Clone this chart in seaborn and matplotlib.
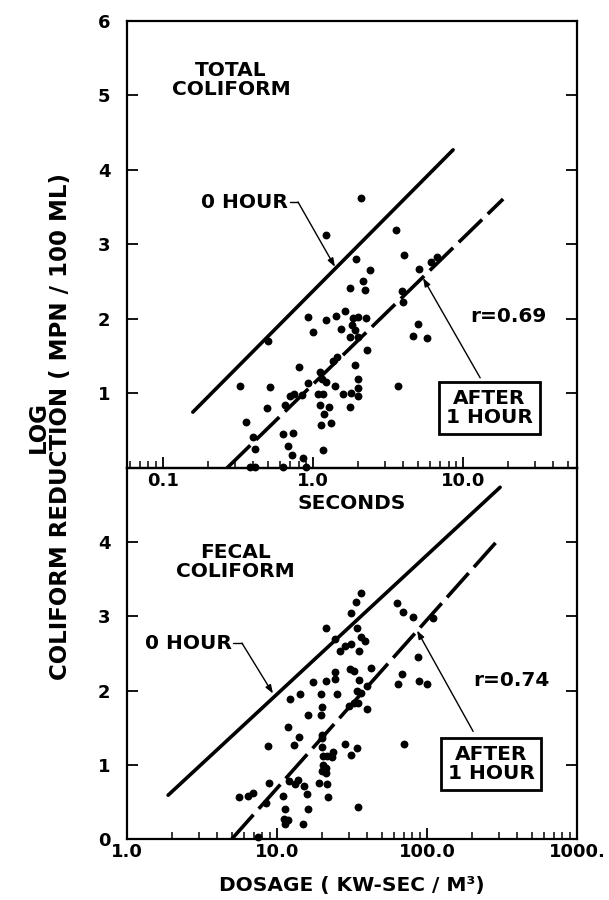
import numpy as np
import pandas as pd
import matplotlib
matplotlib.use("Agg")
import matplotlib.pyplot as plt
from matplotlib.ticker import LogLocator, NullFormatter
import seaborn as sns

# ---------------- data ----------------
top_x = [2.08, 1.22, 3.57, 1.92, 4.04, 2.38, 5.09, 6.12, 6.67, 2.14, 1.77, 2.22, 3.94, 4.0,
         0.93, 1.22, 1.42, 1.64, 1.84, 2.0, 2.27, 1.0, 1.53, 1.81, 1.91, 1.77, 2.0, 2.28,
         5.0, 4.62, 5.72, 0.50, 1.35, 1.44, 0.80, 1.91, 1.11, 1.14, 1.22, 0.93, 1.39, 1.98,
         1.98, 1.99, 1.59, 1.80, 3.67, 0.326, 0.52, 0.85, 0.70, 0.75, 1.08, 1.16, 0.49, 0.65,
         1.11, 1.27, 1.18, 1.77, 0.357, 1.13, 1.32, 0.40, 0.63, 0.73, 0.41, 0.68, 1.16, 0.72,
         0.86, 0.38, 0.41, 0.63, 0.90]
top_y = [3.63, 3.13, 3.19, 2.81, 2.86, 2.66, 2.67, 2.77, 2.83, 2.51, 2.42, 2.39, 2.37, 2.23,
         2.02, 1.98, 2.04, 2.11, 2.01, 2.02, 2.01, 1.83, 1.86, 1.92, 1.85, 1.76, 1.76, 1.58,
         1.93, 1.77, 1.75, 1.71, 1.44, 1.49, 1.36, 1.38, 1.29, 1.20, 1.15, 1.14, 1.10, 1.20,
         1.07, 0.97, 0.99, 1.00, 1.10, 1.10, 1.09, 0.98, 0.97, 0.99, 0.99, 0.99, 0.81, 0.85,
         0.85, 0.82, 0.73, 0.82, 0.62, 0.58, 0.61, 0.41, 0.46, 0.47, 0.25, 0.30, 0.24, 0.17,
         0.13, 0.02, 0.02, 0.02, 0.02]

bot_x = [36.1, 33.4, 31.1, 21.2, 24.4, 34.3, 36.3, 38.6, 31.0, 28.4, 26.3, 35.2, 63.4, 69.5,
         81.1, 109, 86.7, 68.4, 64.4, 88.9, 100.5, 70.6, 24.4, 24.4, 30.7, 32.6, 42.1, 35.4,
         40, 17.5, 21.2, 12.2, 14.2, 19.6, 25.2, 34.3, 36.1, 30.2, 32.6, 34.8, 40, 19.9, 16.2,
         19.6, 11.9, 14.0, 19.9, 19.9, 8.75, 13.0, 19.9, 28.4, 34.3, 31.1, 20.2, 21.6, 23.5,
         23.1, 20.4, 21.2, 19.9, 21.2, 8.9, 12.1, 13.1, 13.9, 15.2, 19.1, 21.4, 5.6, 6.44,
         6.88, 8.5, 10.9, 15.9, 21.8, 11.3, 16.0, 34.5, 11.2, 11.9, 11.3, 15.0, 7.5]
bot_y = [3.32, 3.19, 3.05, 2.85, 2.70, 2.84, 2.72, 2.67, 2.63, 2.60, 2.53, 2.54, 3.18, 3.06,
         2.99, 2.98, 2.45, 2.22, 2.09, 2.13, 2.09, 1.28, 2.25, 2.16, 2.29, 2.26, 2.31, 2.14,
         2.06, 2.12, 2.13, 1.89, 1.95, 1.95, 1.95, 2.00, 1.97, 1.79, 1.83, 1.83, 1.75, 1.78,
         1.67, 1.67, 1.51, 1.38, 1.40, 1.36, 1.25, 1.26, 1.24, 1.28, 1.22, 1.13, 1.12, 1.12,
         1.17, 1.11, 1.00, 0.95, 0.91, 0.89, 0.76, 0.78, 0.74, 0.80, 0.71, 0.76, 0.74, 0.57,
         0.58, 0.62, 0.49, 0.58, 0.61, 0.56, 0.41, 0.40, 0.43, 0.27, 0.26, 0.20, 0.20, 0.02]

# fitted lines (end points)
top_zero_x = [0.158, 8.58]
top_zero_y = [0.75, 4.27]
top_after_x = [0.267, 18.5]
top_after_y = [0.0, 3.61]
bot_zero_x = [1.88, 307]
bot_zero_y = [0.59, 4.74]
bot_after_x = [5.0, 307]
bot_after_y = [0.0, 4.06]

top_xticks = [0.1, 1.0, 10.0]
top_xticklabels = ["0.1", "1.0", "10.0"]
bot_xticks = [1.0, 10.0, 100.0, 1000.0]
bot_xticklabels = ["1.0", "10.0", "100.0", "1000."]
top_yticks = [1, 2, 3, 4, 5, 6]
bot_yticks = [0, 1, 2, 3, 4]

# ---------------- style ----------------
sns.set_style("ticks")
plt.rcParams["font.family"] = ["DejaVu Sans"]
plt.rcParams["font.weight"] = "bold"
plt.rcParams["text.color"] = "black"
plt.rcParams["axes.labelcolor"] = "black"
plt.rcParams["axes.edgecolor"] = "black"
plt.rcParams["xtick.color"] = "black"
plt.rcParams["ytick.color"] = "black"

fig = plt.figure(figsize=(6.09, 9.0), dpi=100)
fig.patch.set_facecolor("white")
ax_bot = fig.add_axes([0.2085, 0.0678, 0.739, 0.4122])
ax_top = fig.add_axes([0.2085, 0.48, 0.739, 0.4967])
for ax in (ax_top, ax_bot):
    ax.set_facecolor("none")

FS = 14.5
TFS = 13


def panel(ax, xs, ys, zx, zy, axx, axy):
    df = pd.DataFrame({"x": xs, "y": ys})
    sns.scatterplot(data=df, x="x", y="y", ax=ax, color="black", s=32,
                    edgecolor="black", linewidth=0, zorder=3)
    ax.collections[-1].set_clip_on(False)
    sns.lineplot(x=zx, y=zy, ax=ax, color="black", lw=2.6, zorder=2,
                 estimator=None, sort=False)
    sns.lineplot(x=axx, y=axy, ax=ax, color="black", lw=2.6, zorder=2,
                 estimator=None, sort=False, dashes=False)
    ax.lines[-1].set_linestyle((0, (9, 2.2)))
    ax.lines[-1].set_dash_capstyle("butt")
    ax.set_xscale("log")
    for s in ax.spines.values():
        s.set_linewidth(1.6)
        s.set_visible(True)
        s.set_color("black")
    ax.tick_params(axis="both", which="major", direction="in", length=8, width=1.3,
                   labelsize=TFS, colors="black")
    ax.tick_params(axis="x", which="minor", direction="in", length=5, width=1.1,
                   colors="black")
    ax.tick_params(axis="y", which="both", right=True, pad=12)
    ax.tick_params(axis="x", which="both", top=False, pad=3)
    ax.xaxis.set_minor_locator(LogLocator(base=10, subs=np.arange(2, 10)))
    ax.xaxis.set_minor_formatter(NullFormatter())
    ax.set_ylabel("")


panel(ax_top, top_x, top_y, top_zero_x, top_zero_y, top_after_x, top_after_y)
panel(ax_bot, bot_x, bot_y, bot_zero_x, bot_zero_y, bot_after_x, bot_after_y)

ax_top.set_xlim(0.0575, 57.5)
ax_top.set_ylim(0, 6)
ax_top.set_yticks(top_yticks)
ax_top.set_yticklabels([str(v) for v in top_yticks], fontweight="bold", fontsize=TFS)
ax_top.set_xticks(top_xticks)
ax_top.set_xticklabels(top_xticklabels, fontweight="bold", fontsize=TFS)
ax_top.set_xlabel("SECONDS", fontsize=FS, fontweight="bold", labelpad=3, color="black")

ax_bot.set_xlim(1, 1000)
ax_bot.set_ylim(0, 5)
ax_bot.set_yticks(bot_yticks)
ax_bot.set_yticklabels([str(v) for v in bot_yticks], fontweight="bold", fontsize=TFS)
ax_bot.set_xticks(bot_xticks)
ax_bot.set_xticklabels(bot_xticklabels, fontweight="bold", fontsize=TFS)
ax_bot.set_xlabel("DOSAGE ( KW-SEC / M³)", fontsize=FS, fontweight="bold", labelpad=11,
                  color="black")

fig.text(0.0805, 0.526, "LOG\nCOLIFORM REDUCTION ( MPN / 100 ML)", rotation=90,
         ha="center", va="center", multialignment="center", fontsize=16.5,
         fontweight="bold", linespacing=0.95, color="black")

arrow = dict(arrowstyle="-|>,head_length=0.5,head_width=0.18", color="black",
             lw=1.0, shrinkA=0, shrinkB=0)
boxkw = dict(boxstyle="square,pad=0.35", facecolor="white", edgecolor="black", lw=2.0)

# ---- top panel annotations ----
ax_top.text(0.284, 5.21, "TOTAL\nCOLIFORM", ha="center", va="center", fontsize=FS,
            fontweight="bold", linespacing=1.0)
ax_top.text(0.68, 3.57, "0 HOUR", ha="right", va="center", fontsize=FS, fontweight="bold")
ax_top.plot([0.70, 0.794], [3.57, 3.57], color="black", lw=1.0)
ax_top.annotate("", xy=(1.40, 2.70), xytext=(0.794, 3.57), arrowprops=arrow)
ax_top.annotate("", xy=(5.41, 2.55), xytext=(13.0, 1.21), arrowprops=arrow)
ax_top.text(14.9, 0.805, "AFTER\n1 HOUR", ha="center", va="center", fontsize=FS,
            fontweight="bold", linespacing=1.05, bbox=boxkw, zorder=5)
ax_top.text(20.0, 2.03, "r=0.69", ha="center", va="center", fontsize=FS, fontweight="bold")

# ---- bottom panel annotations ----
ax_bot.text(5.25, 3.73, "FECAL\nCOLIFORM", ha="center", va="center", fontsize=FS,
            fontweight="bold", linespacing=1.0)
ax_bot.text(5.0, 2.64, "0 HOUR", ha="right", va="center", fontsize=FS, fontweight="bold")
ax_bot.plot([5.1, 5.84], [2.64, 2.64], color="black", lw=1.0)
ax_bot.annotate("", xy=(9.4, 1.96), xytext=(5.84, 2.64), arrowprops=arrow)
ax_bot.annotate("", xy=(85.8, 2.81), xytext=(203, 1.45), arrowprops=arrow)
ax_bot.text(267, 1.01, "AFTER\n1 HOUR", ha="center", va="center", fontsize=FS,
            fontweight="bold", linespacing=1.05, bbox=boxkw, zorder=5)
ax_bot.text(363, 2.14, "r=0.74", ha="center", va="center", fontsize=FS, fontweight="bold")

fig.savefig("out.png", dpi=100, facecolor="white")
